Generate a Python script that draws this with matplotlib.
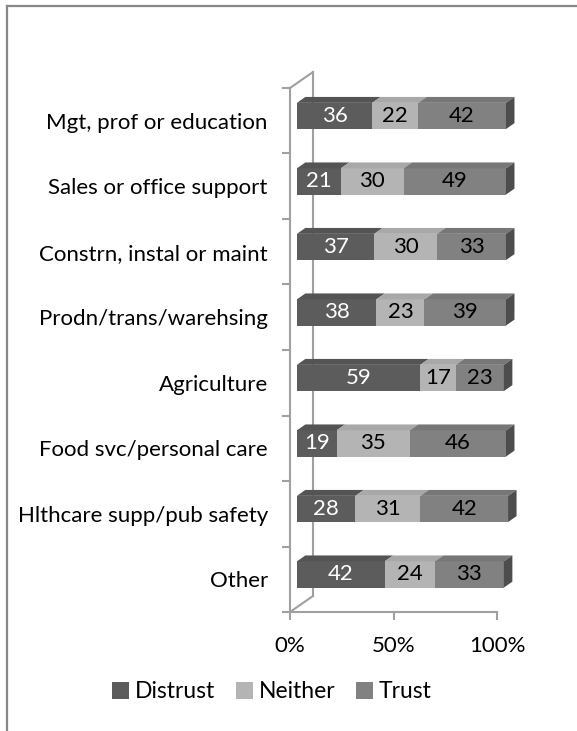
import matplotlib.pyplot as plt
from matplotlib.patches import Polygon
from matplotlib.lines import Line2D

categories = ["Mgt, prof or education", "Sales or office support",
              "Constrn, instal or maint", "Prodn/trans/warehsing",
              "Agriculture", "Food svc/personal care",
              "Hlthcare supp/pub safety", "Other"]
distrust = [36, 21, 37, 38, 59, 19, 28, 42]
neither = [22, 30, 30, 23, 17, 35, 31, 24]
trust = [42, 49, 33, 39, 23, 46, 42, 33]
series_names = ["Distrust", "Neither", "Trust"]
x_ticks = [0, 50, 100]
x_tick_labels = ["0%", "50%", "100%"]

plt.rcParams["font.family"] = ["Lato", "DejaVu Sans"]
FS = 16

front = {"Distrust": "#5c5c5c", "Neither": "#b4b4b4", "Trust": "#818181"}
top = {"Distrust": "#545454", "Neither": "#a8a8a8", "Trust": "#777777"}
side = "#4d4d4d"
txt_col = {"Distrust": "white", "Neither": "black", "Trust": "black"}
frame_col = "#a0a0a0"

W, H = 577, 731
fig = plt.figure(figsize=(W / 100, H / 100), dpi=100)
ax = fig.add_axes([290 / W, (H - 612) / H, 207 / W, 524 / H])
n = len(categories)
ax.set_xlim(0, 100)
ax.set_ylim(-0.5, n - 0.5)

# 3d depth of the plot box (data units), bars sit part way in
DX, DY = 11.1, 0.244
ox, oy = 0.3 * DX, 0.3 * DY
bx, by = 0.37 * DX, 0.37 * DY
bh = 0.40
xs_scale = 1.01

# frame
def seg(xs, ys):
    ax.add_line(Line2D(xs, ys, color=frame_col, lw=1.5, clip_on=False, zorder=1))

seg([0, 0], [-0.5, n - 0.5])
seg([DX, DX], [-0.5 + DY, n - 0.5 + DY])
seg([0, DX], [n - 0.5, n - 0.5 + DY])
seg([0, DX], [-0.5, -0.5 + DY])
seg([0, 100], [-0.5, -0.5])

for i, cat in enumerate(categories):
    yc = n - 1 - i + oy
    vals = [distrust[i], neither[i], trust[i]]
    left = ox
    for name, v in zip(series_names, vals):
        x0, x1 = left, left + v * xs_scale
        y0, y1 = yc - bh / 2, yc + bh / 2
        ax.add_patch(Polygon([(x0, y0), (x1, y0), (x1, y1), (x0, y1)],
                             closed=True, fc=front[name], ec="none",
                             clip_on=False, zorder=3))
        ax.add_patch(Polygon([(x0, y1), (x1, y1), (x1 + bx, y1 + by), (x0 + bx, y1 + by)],
                             closed=True, fc=top[name], ec="none",
                             clip_on=False, zorder=3))
        ax.text((x0 + x1) / 2, yc, str(v), ha="center", va="center",
                color=txt_col[name], fontsize=FS, zorder=4, clip_on=False)
        left = x1
    ax.add_patch(Polygon([(left, yc - bh / 2), (left + bx, yc - bh / 2 + by),
                          (left + bx, yc + bh / 2 + by), (left, yc + bh / 2)],
                         closed=True, fc=side, ec="none", clip_on=False, zorder=3))

for s in ax.spines.values():
    s.set_visible(False)
ax.set_xticks(x_ticks)
ax.set_xticklabels(x_tick_labels, fontsize=FS)
ax.tick_params(axis="x", length=6, width=1.5, color=frame_col, pad=11)
ax.set_yticks(range(n))
ax.set_yticklabels(categories[::-1], fontsize=FS)
ax.set_yticks([k - 0.5 for k in range(n + 1)], minor=True)
ax.tick_params(axis="y", which="major", length=0, pad=16)
ax.tick_params(axis="y", which="minor", length=6, width=1.5, color=frame_col)

handles = [plt.Rectangle((0, 0), 1, 1, fc=front[s], ec="none") for s in series_names]
fig.legend(handles, series_names, loc="center", bbox_to_anchor=(272 / W, 1 - 692 / H),
           ncol=3, frameon=False, fontsize=16.5, handlelength=0.75, handleheight=0.75,
           handletextpad=0.25, columnspacing=0.9)

# chart border (right and bottom edges fall outside the crop)
fig.add_artist(Line2D([7 / W, 7 / W], [0, 1 - 6 / H], color="#888888", lw=1.6,
                      transform=fig.transFigure))
fig.add_artist(Line2D([7 / W, 1], [1 - 6 / H, 1 - 6 / H], color="#888888", lw=1.6,
                      transform=fig.transFigure))

fig.savefig("out.png", dpi=100)
